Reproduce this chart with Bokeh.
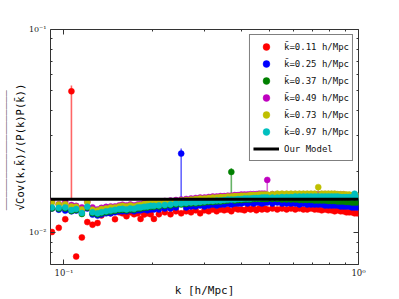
from bokeh.plotting import figure
from bokeh.models import (LogAxis, FixedTicker, CustomJSTickFormatter, Legend,
                          LegendItem, ColumnDataSource, Range1d)
from bokeh.embed import file_html
from bokeh.resources import INLINE

# ---------------- data ----------------
k = [0.091, 0.096, 0.101, 0.106, 0.110, 0.115, 0.120, 0.125, 0.130, 0.134, 0.139, 0.144,
     0.149, 0.154, 0.158, 0.163, 0.168, 0.173, 0.178, 0.182, 0.187, 0.192, 0.197, 0.202,
     0.21, 0.22, 0.23, 0.24, 0.25, 0.26, 0.27, 0.28, 0.29, 0.30, 0.31, 0.32, 0.33, 0.34,
     0.35, 0.36, 0.37, 0.38, 0.39, 0.40, 0.41, 0.42, 0.43, 0.44, 0.45, 0.46, 0.47, 0.48, 0.49,
     0.51, 0.53, 0.55, 0.57, 0.59, 0.61, 0.63, 0.65, 0.67, 0.69, 0.71, 0.73, 0.75, 0.77,
     0.79, 0.81, 0.83, 0.85, 0.87, 0.89, 0.91, 0.93, 0.95, 0.97, 0.99]

cov_k011 = [0.01011, 0.01060, 0.01169, 0.0497, 0.00766, 0.00951, 0.01131, 0.01098, 0.01119, 0.01219,
            0.01263, 0.01249, 0.01169, 0.01263, 0.01249, 0.01209, 0.01263, 0.01236, 0.01249, 0.01173,
            0.01232, 0.01249, 0.01236, 0.01173,
            0.01236, 0.01263, 0.01236, 0.01278, 0.01249, 0.01278, 0.01263, 0.01292, 0.01249, 0.01292,
            0.01278, 0.01306, 0.01278, 0.01306, 0.01292, 0.01306, 0.01278, 0.01321, 0.01306, 0.01306,
            0.01292, 0.01321, 0.01306, 0.01321, 0.01292, 0.01321, 0.01306, 0.01321, 0.01306,
            0.01321, 0.01306, 0.01321, 0.01306, 0.01321, 0.01306, 0.01321, 0.01306, 0.01306, 0.01321,
            0.01306, 0.01306, 0.01292, 0.01306, 0.01292, 0.01292, 0.01278, 0.01292, 0.01278, 0.01278,
            0.01263, 0.01263, 0.01263, 0.01249, 0.01249]

cov_k025 = [0.01321, 0.01302, 0.01288, 0.01278, 0.01288, 0.01278, 0.01321, 0.01232, 0.01219, 0.01232,
            0.01249, 0.01249, 0.01263, 0.01278, 0.01278, 0.01278, 0.01292, 0.01278, 0.01292, 0.01292,
            0.01306, 0.01292, 0.01306, 0.01306,
            0.01306, 0.01321, 0.01321, 0.01336, 0.02455, 0.01336, 0.01351, 0.01351, 0.01366, 0.01351,
            0.01366, 0.01381, 0.01366, 0.01381, 0.01381, 0.01397, 0.01381, 0.01397, 0.01397, 0.01397,
            0.01412, 0.01397, 0.01412, 0.01397, 0.01412, 0.01412, 0.01397, 0.01412, 0.01412,
            0.01397, 0.01412, 0.01397, 0.01397, 0.01397, 0.01397, 0.01381, 0.01397, 0.01381, 0.01381,
            0.01381, 0.01381, 0.01381, 0.01366, 0.01366, 0.01366, 0.01366, 0.01366, 0.01351, 0.01351,
            0.01351, 0.01351, 0.01336, 0.01336, 0.01336]

cov_k037 = [0.01321, 0.01314, 0.01321, 0.01282, 0.01296, 0.01240, 0.01332, 0.01249, 0.01236, 0.01249,
            0.01263, 0.01274, 0.01285, 0.01296, 0.01299, 0.01292, 0.01306, 0.01299, 0.01321, 0.01321,
            0.01329, 0.01336, 0.01344, 0.01344,
            0.01351, 0.01359, 0.01366, 0.01381, 0.01381, 0.01389, 0.01397, 0.01397, 0.01404, 0.01412,
            0.01420, 0.01420, 0.01428, 0.01428, 0.01436, 0.01444, 0.01995, 0.01444, 0.01452, 0.01452,
            0.01460, 0.01460, 0.01460, 0.01469, 0.01469, 0.01469, 0.01469, 0.01469, 0.01469,
            0.01469, 0.01469, 0.01460, 0.01460, 0.01460, 0.01460, 0.01452, 0.01452, 0.01452, 0.01452,
            0.01444, 0.01444, 0.01444, 0.01444, 0.01436, 0.01436, 0.01436, 0.01428, 0.01428, 0.01428,
            0.01420, 0.01420, 0.01412, 0.01412, 0.01412]

cov_k049 = [0.01428, 0.01386, 0.01423, 0.01371, 0.01359, 0.01336, 0.01428, 0.01336, 0.01306, 0.01329,
            0.01344, 0.01351, 0.01351, 0.01366, 0.01377, 0.01366, 0.01381, 0.01366, 0.01381, 0.01386,
            0.01404, 0.01412, 0.01420, 0.01420,
            0.01428, 0.01436, 0.01444, 0.01452, 0.01460, 0.01469, 0.01477, 0.01485, 0.01493, 0.01493,
            0.01502, 0.01510, 0.01510, 0.01518, 0.01518, 0.01526, 0.01526, 0.01535, 0.01535, 0.01544,
            0.01544, 0.01544, 0.01552, 0.01552, 0.01552, 0.01561, 0.01561, 0.01561, 0.01823,
            0.01552, 0.01552, 0.01552, 0.01552, 0.01552, 0.01552, 0.01552, 0.01552, 0.01552, 0.01552,
            0.01552, 0.01552, 0.01552, 0.01552, 0.01552, 0.01552, 0.01552, 0.01544, 0.01544, 0.01544,
            0.01535, 0.01535, 0.01526, 0.01518, 0.01518]

cov_k073 = [0.01412, 0.01381, 0.01386, 0.01351, 0.01347, 0.01306, 0.01412, 0.01302, 0.01288, 0.01311,
            0.01321, 0.01336, 0.01336, 0.01351, 0.01362, 0.01351, 0.01366, 0.01351, 0.01366, 0.01371,
            0.01389, 0.01397, 0.01404, 0.01404,
            0.01412, 0.01420, 0.01428, 0.01436, 0.01444, 0.01452, 0.01460, 0.01469, 0.01477, 0.01477,
            0.01485, 0.01493, 0.01493, 0.01502, 0.01502, 0.01510, 0.01510, 0.01518, 0.01518, 0.01526,
            0.01526, 0.01526, 0.01535, 0.01535, 0.01535, 0.01544, 0.01544, 0.01544, 0.01544,
            0.01552, 0.01561, 0.01561, 0.01561, 0.01561, 0.01561, 0.01561, 0.01561, 0.01561, 0.01561,
            0.01561, 0.0168, 0.01561, 0.01561, 0.01561, 0.01561, 0.01561, 0.01552, 0.01552, 0.01552,
            0.01544, 0.01544, 0.01535, 0.01526, 0.01526]

cov_k097 = [0.01336, 0.01329, 0.01336, 0.01296, 0.01311, 0.01254, 0.01347, 0.01263, 0.01249, 0.01263,
            0.01278, 0.01288, 0.01299, 0.01311, 0.01314, 0.01306, 0.01321, 0.01314, 0.01336, 0.01336,
            0.01344, 0.01351, 0.01359, 0.01359,
            0.01366, 0.01374, 0.01381, 0.01397, 0.01397, 0.01404, 0.01412, 0.01412, 0.01420, 0.01428,
            0.01436, 0.01436, 0.01444, 0.01444, 0.01452, 0.01460, 0.01460, 0.01460, 0.01469, 0.01469,
            0.01477, 0.01477, 0.01477, 0.01485, 0.01485, 0.01485, 0.01493, 0.01493, 0.01493,
            0.01493, 0.01493, 0.01502, 0.01502, 0.01502, 0.01510, 0.01510, 0.01510, 0.01510, 0.01510,
            0.01510, 0.01510, 0.01510, 0.01510, 0.01510, 0.01510, 0.01510, 0.01510, 0.01502, 0.01502,
            0.01502, 0.01502, 0.01493, 0.0156, 0.01493]

# diagonal error bars (k-bar, lower, upper)
diag_k = [0.106, 0.25, 0.37, 0.49, 0.73, 0.97]
diag_lo = [0.0146, 0.0146, 0.0144, 0.0156, 0.0156, 0.0150]
diag_hi = [0.0531, 0.0260, 0.0208, 0.0186, 0.0171, 0.0159]

series_labels = ["k\u0304=0.11\u2009h/Mpc", "k\u0304=0.25\u2009h/Mpc", "k\u0304=0.37\u2009h/Mpc",
                 "k\u0304=0.49\u2009h/Mpc", "k\u0304=0.73\u2009h/Mpc", "k\u0304=0.97\u2009h/Mpc"]
series_colors = ["#ff0000", "#0000ff", "#008000", "#bf00bf", "#bfbf00", "#00bfbf"]

model_k = [0.09, 1.0]
model_cov = [0.01465, 0.01465]

x_major = [0.1, 1.0]
x_minor = [0.2, 0.3, 0.4, 0.5, 0.6, 0.7, 0.8, 0.9]
y_major = [0.01, 0.1]
y_minor = [0.007, 0.008, 0.009, 0.02, 0.03, 0.04, 0.05, 0.06, 0.07, 0.08, 0.09]

# square-root label: first line is the vinculum, second line the radicand
y_label_text = " " + "\u203e" * 19 + "\n\u221aCov(k,k\u0304)/(P(k)P(k\u0304))"
x_label_text = "k [h/Mpc]"

all_series = [cov_k011, cov_k025, cov_k037, cov_k049, cov_k073, cov_k097]
for s in all_series:
    assert len(s) == len(k), len(s)

# ---------------- figure ----------------
W, H = 399, 299
p = figure(width=W, height=H, x_axis_type="log", y_axis_type="log",
           x_range=Range1d(0.09, 1.0), y_range=Range1d(0.007, 0.1),
           output_backend="svg", toolbar_location=None,
           min_border_left=50, min_border_right=41, min_border_top=29,
           min_border_bottom=31)
p.grid.visible = False
p.outline_line_color = "#333333"
p.outline_line_width = 1
p.background_fill_color = "white"
p.border_fill_color = "white"

fmt = CustomJSTickFormatter(code="""
const sup = {"-":"\u207b","0":"\u2070","1":"\u00b9","2":"\u00b2","3":"\u00b3"};
const e = Math.round(Math.log10(tick)).toString();
return "10" + e.split("").map(c => sup[c]).join("");
""")
blank = CustomJSTickFormatter(code="return '';")

xt = FixedTicker(ticks=x_major, minor_ticks=x_minor)
yt = FixedTicker(ticks=y_major, minor_ticks=y_minor)

def style_axis(ax):
    ax.axis_line_color = None
    ax.major_tick_in = 5
    ax.major_tick_out = 0
    ax.minor_tick_in = 2
    ax.minor_tick_out = 0
    ax.major_tick_line_color = "#333333"
    ax.minor_tick_line_color = "#333333"
    ax.major_label_text_font = "DejaVu Serif"
    ax.major_label_text_font_size = "8.5px"
    ax.major_label_text_color = "#222222"
    ax.axis_label_text_font = "DejaVu Sans Mono"
    ax.axis_label_text_font_style = "normal"
    ax.axis_label_text_font_size = "11px"
    ax.axis_label_text_color = "#111111"

xa = p.xaxis[0]
xa.ticker = xt
xa.formatter = fmt
style_axis(xa)
xa.major_label_standoff = 3
xa.axis_label = x_label_text
xa.axis_label_standoff = 3

ya = p.yaxis[0]
ya.ticker = yt
ya.formatter = fmt
style_axis(ya)
ya.major_label_text_font_size = "8px"
ya.major_label_standoff = 4
ya.axis_label = y_label_text
ya.axis_label_standoff = 0
ya.axis_label_text_font_size = "10.5px"
ya.axis_label_text_line_height = 0.85
ya.axis_label_text_color = "#000000"

top = LogAxis(ticker=xt, formatter=blank)
style_axis(top)
top.major_label_standoff = 0
p.add_layout(top, "above")
right = LogAxis(ticker=yt, formatter=blank)
style_axis(right)
right.major_label_standoff = 0
p.add_layout(right, "right")

# ---------------- glyphs ----------------
items = []
for i, (vals, col, lab) in enumerate(zip(all_series, series_colors, series_labels)):
    eb = ColumnDataSource(dict(x=[diag_k[i]], lo=[diag_lo[i]], hi=[diag_hi[i]]))
    p.segment(x0="x", y0="lo", x1="x", y1="hi", source=eb, line_color=col,
              line_alpha=0.6, line_width=1.6)
    src = ColumnDataSource(dict(k=k, v=vals))
    r = p.scatter("k", "v", source=src, size=6, marker="circle",
                  fill_color=col, line_color=col, line_width=0.5)
    items.append(LegendItem(label=lab, renderers=[r]))

lm = p.line(model_k, model_cov, line_color="black", line_width=3)
items.append(LegendItem(label="Our Model", renderers=[lm]))

legend = Legend(items=items, location="top_right")
legend.margin = 5
legend.padding = 3
legend.spacing = 0
legend.label_height = 17
legend.glyph_height = 17
legend.glyph_width = 26
legend.label_standoff = 5
legend.label_text_font = "DejaVu Sans Mono"
legend.label_text_font_size = "9px"
legend.label_text_color = "#111111"
legend.border_line_color = "black"
legend.border_line_width = 1
legend.background_fill_color = "white"
legend.background_fill_alpha = 1.0
p.add_layout(legend)

open("out.html", "w").write(file_html(p, INLINE))
